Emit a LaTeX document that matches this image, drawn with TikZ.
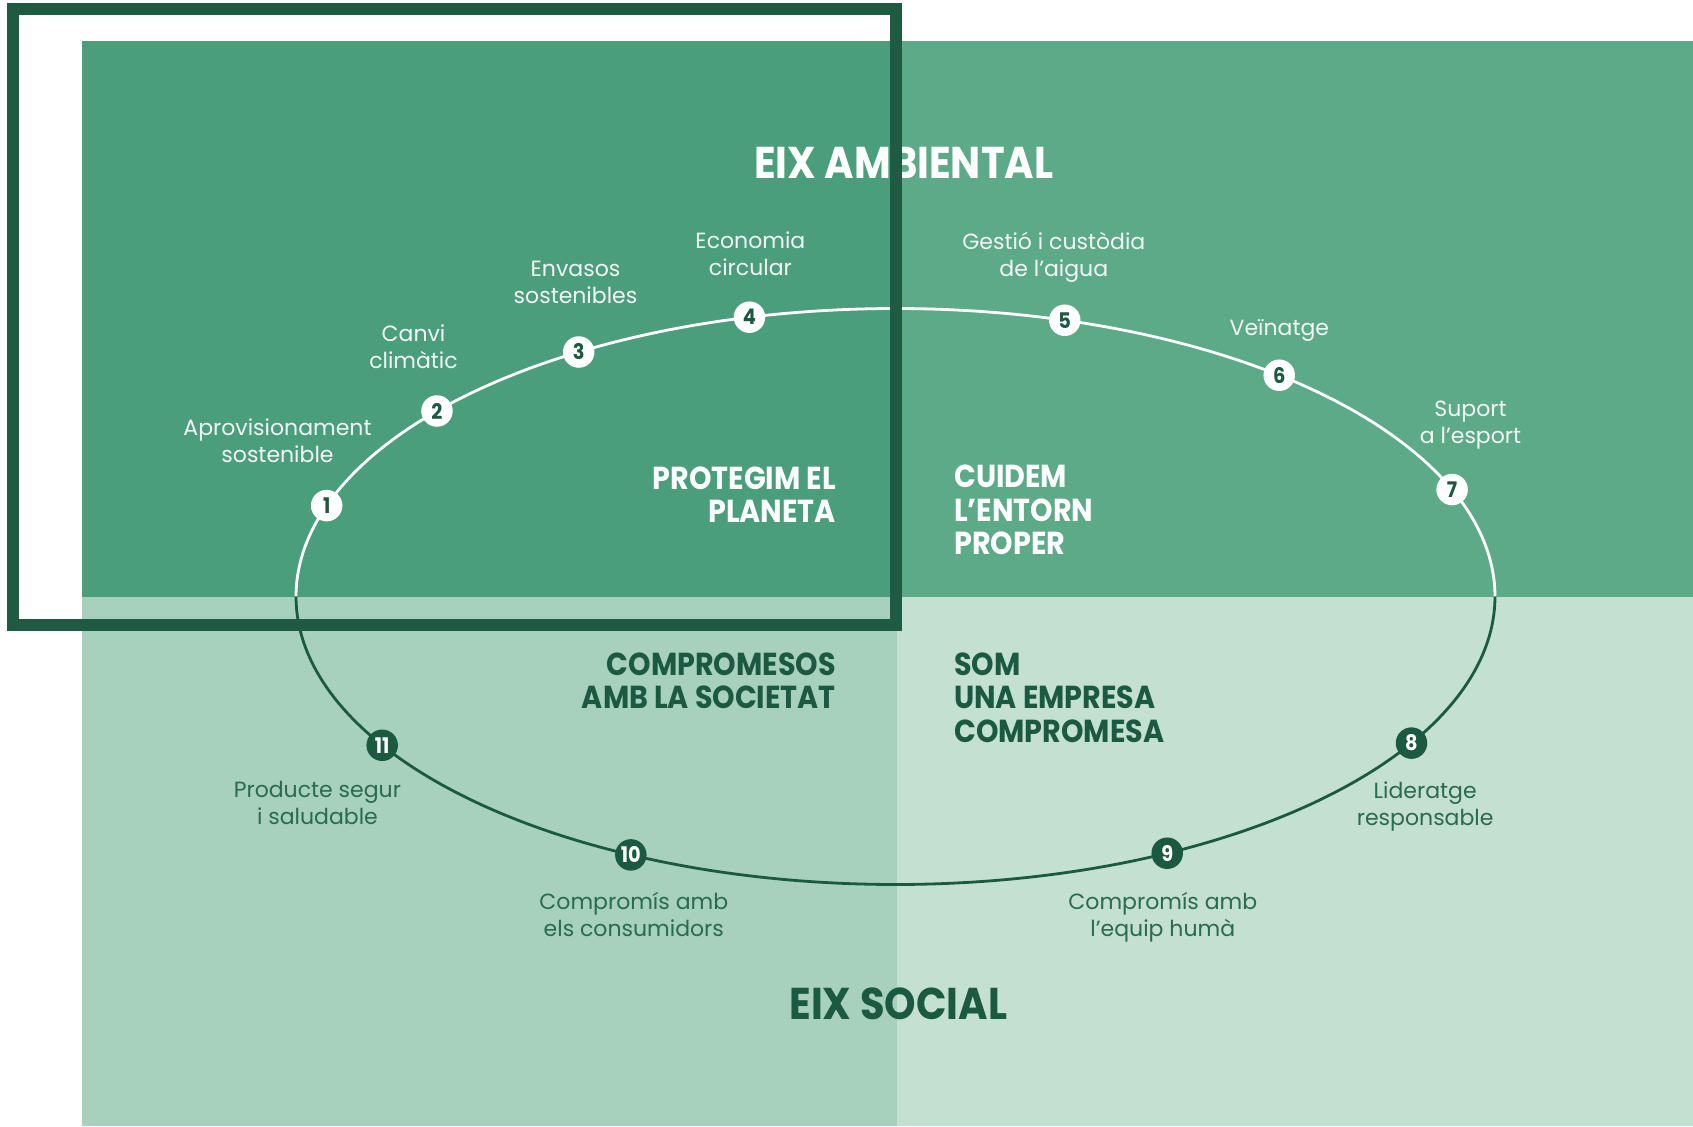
\documentclass[tikz,border=0pt]{standalone}
\usepackage{fontspec}
\setmainfont{Poppins}
\newfontfamily\headfont[FakeStretch=0.9]{Poppins}
\definecolor{tlc}{HTML}{4B9E7B}
\definecolor{trc}{HTML}{5DAA88}
\definecolor{blc}{HTML}{A7D1BD}
\definecolor{brc}{HTML}{C3E0D1}
\definecolor{darkg}{HTML}{1B5A40}
\definecolor{framec}{HTML}{1F5A42}
\definecolor{labdark}{HTML}{2A6A4F}
\definecolor{labwhite}{HTML}{F2F8F5}
\tikzset{
  lab/.style={align=center, inner sep=0pt, font=\fontsize{22}{27}\selectfont},
  labw/.style={lab, text=labwhite},
  labd/.style={lab, text=labdark},
  head/.style={inner sep=0pt, font=\headfont\bfseries\fontsize{31.8}{33.5}\selectfont},
  axistitle/.style={inner sep=0pt, font=\headfont\bfseries\fontsize{44.5}{44.5}\selectfont},
  numw/.style={circle, fill=white, minimum size=31.5pt, inner sep=0pt, text=darkg, font=\headfont\bfseries\fontsize{21.5}{21.5}\selectfont},
  numd/.style={numw, fill=darkg, text=white},
  ringtop/.style={draw=white, line width=2.8pt},
  ringbot/.style={draw=darkg, line width=2.8pt},
  framebox/.style={draw=framec, line width=12pt}
}
\begin{document}
\begin{tikzpicture}[x=1pt,y=-1pt]
\useasboundingbox (0,0) rectangle (1693,1126);
\fill[white] (0,0) rectangle (1693,1126);
% quadrants
\fill[tlc] (82,41) rectangle (897,596.7);
\fill[trc] (897,41) rectangle (1693,596.7);
\fill[blc] (82,596.7) rectangle (897,1126);
\fill[brc] (897,596.7) rectangle (1693,1126);
% ellipse
\draw[ringtop] plot[domain=0:180, samples=240, smooth] ({895.5+599.5*cos(\x)},{596.5-288*sin(\x)});
\draw[ringbot] plot[domain=180:360, samples=240, smooth] ({895.5+599.5*cos(\x)},{596.5-288*sin(\x)});
% points on ellipse
\foreach \n/\t in {1/161.6, 2/139.9, 3/121.9, 4/104.1, 5/73.6, 6/50.2, 7/21.8, 8/-30.6, 9/-63.05, 10/-116.2, 11/-148.9}
  \coordinate (p\n) at ({895.5+599.5*cos(\t)},{596.5-288*sin(\t)});
\foreach \n in {1,...,7} \node[numw] (n\n) at (p\n) {\n};
\foreach \n in {8,...,11} \node[numd] (n\n) at (p\n) {\n};
% axis titles
\node[axistitle, text=white] (eixamb) at (903.7,163) {EIX AMBIENTAL};
\node[axistitle, text=darkg] (eixsoc) at (898.3,1004) {EIX SOCIAL};
% quadrant headings
\node[head, text=white, align=right, anchor=east] (protegim) at (836,494.5) {PROTEGIM EL\\PLANETA};
\node[head, text=white, align=left, anchor=west] (cuidem) at (954,510) {CUIDEM\\L’ENTORN\\PROPER};
\node[head, text=darkg, align=right, anchor=east] (compromesos) at (836,680.7) {COMPROMESOS\\AMB LA SOCIETAT};
\node[head, text=darkg, align=left, anchor=west] (som) at (954,697.5) {SOM\\UNA EMPRESA\\COMPROMESA};
% labels
\node[labw] (l1) at (277.5,440.5) {Aprovisionament\\sostenible};
\node[labw] (l2) at (413.5,346.6) {Canvi\\climàtic};
\node[labw] (l3) at (575.5,282.9) {Envasos\\sostenibles};
\node[labw] (l4) at (750.4,253.7) {Economia\\circular};
\node[labw] (l5) at (1053.8,257.2) {Gestió i custòdia\\de l’aigua};
\node[labw] (l6) at (1279.4,330.7) {Veïnatge};
\node[labw] (l7) at (1470.5,425) {Suport\\a l’esport};
\node[labd] (l8) at (1425.2,806.8) {Lideratge\\responsable};
\node[labd] (l9) at (1162.8,917.5) {Compromís amb\\l’equip humà};
\node[labd] (l10) at (633.8,914.5) {Compromís amb\\els consumidors};
\node[labd] (l11) at (317.4,803.3) {Producte segur\\i saludable};
% frame on top
\draw[framebox] (13.3,9) rectangle (896,625.3);
\end{tikzpicture}
\end{document}
